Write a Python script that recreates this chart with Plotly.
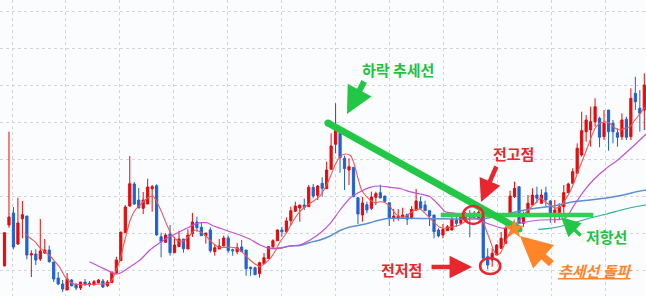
import plotly.graph_objects as go

# ---------------- data (prices) ----------------
opens = [34, 75, 87, 56, 81.3, 84, 45, 46, 41, 47,
         50, 38, 22, 16, 10, 20, 16, 12, 18, 17,
         15, 17, 19, 14.3, 17.3, 27, 39.3, 67.3, 94, 116,
         100, 91.7, 96, 111.3, 114.3, 63.3, 57.7, 66, 47.3, 53.3,
         61, 51, 66.3, 78, 72.7, 64.3, 70, 48.3, 51, 54,
         62, 50.3, 48.3, 53, 50, 32.7, 32.3, 26.3, 36.3, 41.3,
         53.3, 59.3, 70, 68.3, 79.3, 88.7, 92, 95, 93.3, 112.7,
         104.7, 116.7, 111.3, 130.7, 155.7, 166.7, 141.7, 130, 132.7, 102.3,
         85, 95.3, 91.7, 102.7, 107.3, 104, 97.3, 81.7, 81.7, 83,
         85.7, 81.3, 90, 98.3, 95, 89.3, 85, 70, 65, 69.3,
         70, 80, 76.7, 80, 86, 87, 82, 85, 43.3, 40,
         45, 51.7, 56.7, 86.7, 103.3, 113.3, 76.7, 85, 95, 105,
         96.7, 107.3, 99, 85, 86, 93.3, 107.3, 116.7, 126.7, 145,
         168.3, 170, 178.3, 181.7, 163.3, 190, 176.7, 167.3, 163.3, 180.7,
         163.3, 206.7, 191.7, 190]
highs = [67.3, 168.3, 93, 102.3, 99, 84, 49.7, 50.7, 81, 61,
         54.3, 38, 28, 20, 27, 21, 16, 18, 21, 19,
         20, 21, 21, 20, 28, 43.3, 68, 95, 144, 118,
         112, 108, 121.3, 115, 115.7, 67.3, 66.7, 75, 63.3, 69.3,
         61, 70.7, 87, 83.3, 78, 67, 72.7, 56.3, 61, 64.3,
         64.3, 51.3, 57, 60, 50, 33.3, 33.3, 38.3, 47, 54,
         60.7, 70.7, 73.3, 82.7, 93.3, 98.3, 95, 101.3, 115, 116,
         115, 122.7, 138.3, 166.7, 196.7, 166.7, 144.3, 141.7, 132.7, 102.3,
         103, 98.3, 108.3, 108.3, 115.3, 104, 97.3, 91, 91, 92.3,
         85.7, 94, 111, 103.3, 99.3, 89.3, 85, 71.7, 76, 75,
         83.3, 83.3, 87, 88, 90, 89, 90, 87, 51.7, 51.7,
         56, 68, 73.3, 109.3, 118.3, 113.3, 88.3, 105, 111.7, 113.3,
         110.7, 113.3, 100, 100, 96.7, 115, 117.3, 131.7, 156.7, 188.3,
         185, 193.3, 201.7, 183.3, 190, 190, 180, 171.7, 186.7, 183.3,
         211.7, 223.3, 210, 226.7]
lows = [34, 72.3, 50.7, 55, 61.7, 40.7, 23, 35, 39, 46,
        37.3, 18, 15, 8, 10, 14, 10, 10, 15, 13,
        15, 17, 12, 13, 17.3, 27, 39.3, 67.3, 93, 95,
        92, 86, 96, 88.3, 64.3, 42.7, 57.7, 44.3, 47.3, 53.3,
        47.3, 51, 63, 68.3, 64.3, 56.3, 47.3, 44.3, 51, 54,
        47.3, 44.3, 45.7, 48.3, 24.3, 24.3, 25.3, 22.3, 36.3, 41.3,
        50.7, 59.3, 63.3, 66.7, 75, 88.7, 78.3, 90, 93.3, 101.7,
        100, 103.3, 111.3, 130.7, 146.7, 127.3, 110, 115, 103.3, 76,
        78.3, 86.7, 90, 95, 102, 98.3, 74, 78.3, 79.3, 82,
        75, 81.3, 89, 91.7, 89.3, 74, 61.7, 62.7, 61.7, 69.3,
        70, 73.3, 76.7, 78, 62.7, 81, 80, 41.7, 30.7, 33.3,
        45, 51.7, 56.7, 85, 102, 76.7, 73.3, 85, 95, 96.7,
        96.7, 93.3, 77.3, 77, 80.7, 83.3, 107.3, 116.7, 126.7, 143.3,
        158.3, 153.3, 173.3, 152.7, 160, 149.3, 156.7, 153.3, 160, 160,
        160, 190, 168.3, 170]
closes = [67.3, 83, 53, 77, 85.3, 45, 46.3, 40, 49, 50,
          38.3, 21, 16, 11, 21, 14, 12, 18, 15, 15,
          18.3, 20, 13, 18, 28, 40, 68, 93, 116.3, 96,
          92, 100, 113, 113.3, 65, 58.3, 65, 47.3, 55, 61,
          51.3, 65, 78, 72.3, 64.3, 67, 49.3, 52.3, 54, 62,
          49.3, 49.3, 52.3, 48.3, 31.3, 31.3, 25.3, 37.3, 42.3, 53.3,
          59.3, 70, 68.3, 79, 89.3, 94, 95, 92.7, 112.7, 104,
          114, 111.7, 130, 154, 170, 142.3, 131.3, 133.3, 103.3, 86,
          97, 90, 103, 106.3, 102, 98.7, 81.7, 84, 84, 85,
          80.7, 90.7, 99, 91.7, 89.3, 84, 68.3, 64, 70.7, 73.3,
          80.7, 76.7, 83.3, 86, 83, 83, 88, 41.7, 35, 46.7,
          55, 61.7, 71.7, 104, 111.7, 76.7, 83.3, 96.7, 105, 101.7,
          105, 100, 86, 90, 93.3, 107.3, 116, 128.3, 151.7, 169.3,
          180, 178.3, 193.3, 162.7, 176.7, 168.3, 168.3, 162.7, 180, 162.7,
          201.7, 198.3, 186.7, 215]
days = list(range(len(opens)))

# moving-average lines (position, value)
ma5_x = [4.6, 5.7, 6.8, 7.9, 9.0, 10.2, 11.3, 12.4, 13.5, 14.6, 15.8, 20.2, 23.6, 24.7, 25.8, 26.9,
         28.1, 29.2, 30.3, 31.4, 32.5, 33.2, 34.0, 35.1, 36.3, 37.4, 38.5, 39.6, 40.3, 41.5, 42.6,
         43.7, 44.8, 45.9, 47.0, 48.2, 50.4, 51.5, 52.6, 53.8, 54.9, 56.0, 57.1, 58.2, 59.3, 60.5,
         61.6, 62.7, 63.8, 64.9, 66.0, 67.2, 68.3, 69.4, 70.5, 71.6, 72.8, 73.9, 75.0, 76.1, 77.2,
         78.0, 78.9, 79.8, 80.6, 81.7, 82.8, 83.9, 85.1, 86.2, 87.3, 88.4, 89.5, 90.6, 91.8, 92.9,
         94.0, 95.1, 96.2, 97.3, 98.5, 99.6, 101.8, 102.9, 104.1, 105.2, 106.3, 107.0, 107.8, 108.5,
         109.3, 110.0, 110.8, 111.5, 112.3, 113.0, 114.1, 115.2, 116.3, 117.5, 118.6, 119.8, 120.8,
         121.9, 123.0, 124.2, 125.3, 126.4, 127.5, 128.6, 129.8, 130.9, 132.0, 133.1, 134.2, 135.3,
         136.5, 137.6, 138.7, 139.8, 140.9, 142.1, 143.2]
ma5_v = [66.7, 62, 58.3, 52.3, 48.3, 44, 38.3, 32.3, 23.3, 18.3, 15.7, 15.7, 17.3, 27, 40, 60,
         80, 90, 95, 100, 103.3, 104, 98.3, 88.3, 75, 65, 60, 58.3, 60, 65, 70,
         68.3, 65, 60, 55, 52.7, 52.7, 52.3, 50, 45, 40, 36, 33.3, 36.7, 41, 49,
         58.3, 65, 73.3, 81.7, 88.3, 93.3, 96.7, 100, 104, 111.7, 123.3, 135, 143.3, 146, 145,
         138.3, 123.3, 110, 105, 100, 97.3, 98.3, 97.3, 93.3, 86.7, 83.3, 83.3, 86.7, 90, 90.7,
         86.7, 81.7, 76.7, 72.7, 71.7, 72.7, 75, 78.3, 81.7, 84, 84, 78.3, 68.3, 60,
         50, 45, 46.7, 53.3, 61.7, 68.3, 75, 80, 86.7, 91.7, 96.7, 102, 98.3,
         95, 91.7, 93.3, 100, 108.3, 120, 133.3, 146.7, 160, 171.7, 176.7, 178.3, 176.7,
         171.7, 170, 171.7, 173.3, 180, 186.7, 193]
ma20_x = [19.0, 21.3, 23.6, 24.7, 25.8, 28.1, 30.3, 32.5, 34.0, 36.3, 38.5, 40.7, 43.0, 45.2,
          46.7, 48.2, 50.4, 52.6, 54.9, 57.1, 59.3, 61.6, 63.8, 66.0, 68.3, 70.5, 72.8, 75.0,
          77.2, 79.5, 81.7, 83.9, 86.2, 88.4, 90.6, 92.9, 95.1, 97.3, 98.5, 100.7, 104.1, 107.8,
          111.5, 115.2, 119.7, 124.2, 125.7, 127.1, 129.4, 131.6, 134.6, 136.8, 139.1, 141.3, 143.4]
ma20_v = [38.3, 33.3, 28.3, 26, 26.7, 33.3, 40, 50, 55, 61.7, 66.7, 71.7, 76.7, 77.3,
          74, 71.7, 68.3, 65, 60.7, 55, 51.7, 51.7, 54, 55, 60, 66.7, 76.7, 90,
          101.7, 108.3, 112.7, 114, 112.7, 111.5, 108.3, 106, 103.3, 94, 88.3, 86.7, 84, 76.7,
          71.7, 76.7, 80, 80.7, 83.3, 93.3, 108.3, 120, 132, 139, 148, 157, 166]
ma60_x = [59.3, 61.6, 63.8, 66.0, 68.3, 70.5, 72.8, 75.0, 77.2, 79.5, 81.7, 83.9, 86.2, 90.6,
          100.7, 107.8, 115.2, 119.0, 122.6, 127.1, 130.9, 134.6, 138.3, 140.5, 143.4]
ma60_v = [51.7, 52, 54, 54.5, 57.5, 60, 64, 69.5, 73, 75, 77.3, 80, 81.7, 81.7,
          81, 81.7, 89, 92, 94, 98.3, 100, 102, 105, 107.5, 110]
ma120_x = [119.3, 121.3, 124.2, 127.1, 130.9, 134.6, 138.3, 141.3, 143.4]
ma120_v = [70.7, 71.3, 73.5, 77, 82, 86, 90.5, 93.5, 95]

# hand-drawn overlays (chart coordinates)
trend_x = [72.3, 115.0]
trend_v = [177, 71]
resist_x = [97.5, 131.6]
resist_v = [85, 85]

RED = "#e60a0a"
BLUE = "#1f62d3"
GREEN = "#22c845"
TXT_GREEN = "#1fc242"
TXT_RED = "#e8262e"
ORANGE = "#ff8528"
FONT = "Noto Sans CJK KR"

fig = go.Figure()
fig.add_trace(go.Candlestick(
    x=days, open=opens, high=highs, low=lows, close=closes,
    increasing=dict(line=dict(color=RED, width=1), fillcolor=RED),
    decreasing=dict(line=dict(color=BLUE, width=1), fillcolor=BLUE),
    whiskerwidth=0, hoverinfo="skip", showlegend=False))

for xs, vs, col, w in [(ma120_x, ma120_v, "#2fae8e", 1.2),
                       (ma60_x, ma60_v, "#5a8fd2", 1.5),
                       (ma20_x, ma20_v, "#c353d2", 1.2),
                       (ma5_x, ma5_v, "#ec5a57", 1.1)]:
    fig.add_trace(go.Scatter(x=xs, y=vs, mode="lines",
                             line=dict(color=col, width=w, shape="spline", smoothing=0.6),
                             hoverinfo="skip", showlegend=False))

fig.add_trace(go.Scatter(x=resist_x, y=resist_v, mode="lines",
                         line=dict(color="#2fd055", width=4.5),
                         hoverinfo="skip", showlegend=False))
fig.add_trace(go.Scatter(x=trend_x, y=trend_v, mode="lines+markers",
                         line=dict(color=GREEN, width=7),
                         marker=dict(color=GREEN, size=7),
                         hoverinfo="skip", showlegend=False))

# red circles
fig.add_shape(type="circle", x0=102.5, x1=107.0, y0=76, y1=94,
              line=dict(color=TXT_RED, width=2.6))
fig.add_shape(type="circle", x0=106.3, x1=110.8, y0=26, y1=42,
              line=dict(color=TXT_RED, width=2.6))

# star at the break-out
fig.add_trace(go.Scatter(x=[113.9], y=[71], mode="markers",
                         marker=dict(symbol="star", size=15, color=ORANGE),
                         hoverinfo="skip", showlegend=False))

def arrow(x, y, ax, ay, color, width, size):
    fig.add_annotation(x=x, y=y, ax=ax, ay=ay, xref="x", yref="y", text="",
                       showarrow=True, arrowhead=2, arrowsize=size,
                       arrowwidth=width, arrowcolor=color, standoff=0)

arrow(76.55, 186, 18, -34, GREEN, 6, 0.9)
arrow(106.5, 98, 16, -37, TXT_RED, 4.5, 1.0)
arrow(104.5, 33, -42, 0, TXT_RED, 4.5, 1.0)
arrow(115.2, 64, 33, 29, ORANGE, 7, 0.9)
arrow(124.4, 83, 21, 20, GREEN, 3.5, 1.1)

def label(x, y, text, color, size=15):
    fig.add_annotation(x=x, y=y, xref="x", yref="y", text=text, showarrow=False,
                       font=dict(family=FONT, size=size, color=color))

label(87.95, 230.5, "<b>하락 추세선</b>", TXT_GREEN)
label(113.8, 146.5, "<b>전고점</b>", TXT_RED)
label(88.8, 30.5, "<b>전저점</b>", TXT_RED)
label(132.0, 30.0, "<b><i><u>추세선 돌파</u></i></b>", ORANGE)
label(134.6, 64.0, "<b>저항선</b>", TXT_GREEN)

fig.update_layout(
    width=646, height=296, margin=dict(l=0, r=0, t=0, b=0),
    paper_bgcolor="#fbfcfe", plot_bgcolor="#fbfcfe",
    showlegend=False,
    xaxis=dict(range=[-1.006, 143.38], showticklabels=False, ticks="",
               showgrid=True, gridcolor="#d2d6db", griddash="dot", gridwidth=1,
               tick0=1.68, dtick=12.05, zeroline=False, rangeslider=dict(visible=False),
               fixedrange=True),
    yaxis=dict(range=[4, 300], showticklabels=False, ticks="",
               showgrid=True, gridcolor="#d2d6db", griddash="dot", gridwidth=1,
               tick0=29.3, dtick=37, zeroline=False, showline=True,
               linecolor="#9db3d3", linewidth=3, fixedrange=True),
)

fig.write_html("out.html")
